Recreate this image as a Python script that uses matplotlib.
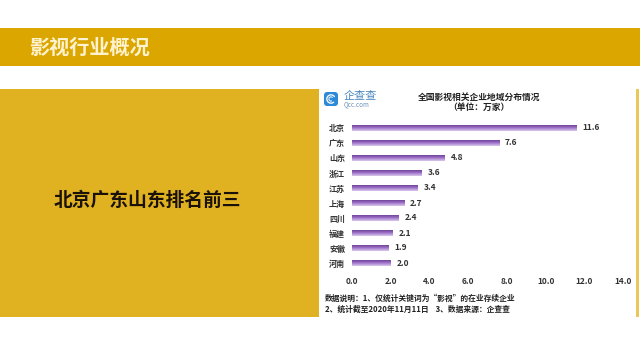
import numpy as np
import matplotlib
matplotlib.use("Agg")
import matplotlib.pyplot as plt
from matplotlib.patches import Rectangle, FancyBboxPatch, Wedge
from matplotlib.colors import LinearSegmentedColormap

plt.rcParams['font.family'] = ['Noto Sans CJK SC', 'DejaVu Sans']

provinces = ["北京", "广东", "山东", "浙江", "江苏", "上海", "四川", "福建", "安徽", "河南"]
counts = [11.6, 7.6, 4.8, 3.6, 3.4, 2.7, 2.4, 2.1, 1.9, 2.0]
xticks = [0, 2, 4, 6, 8, 10, 12, 14]

W, H = 640, 360
fig = plt.figure(figsize=(6.4, 3.6), dpi=100)
fig.patch.set_facecolor("white")

def px(x0, y0, w, h):
    return [x0 / W, 1 - (y0 + h) / H, w / W, h / H]

# background layer
bg = fig.add_axes([0, 0, 1, 1])
bg.set_xlim(0, W); bg.set_ylim(H, 0); bg.axis("off")
bg.add_patch(Rectangle((0, 28), W, 38, color="#DBA600", lw=0))
bg.text(29, 47, "影视行业概况", color="#FFF3CF", fontsize=14.5, fontweight="bold",
        va="center", ha="left")
bg.add_patch(Rectangle((0, 89), 319, 228, color="#E0B221", lw=0))
bg.add_patch(Rectangle((636, 89), 3, 228, color="#E8C85A", lw=0))
bg.text(147, 200, "北京广东山东排名前三", color="#1A1208", fontsize=13.5,
        fontweight="bold", ha="center", va="center")

# logo
bg.add_patch(FancyBboxPatch((324, 92), 14, 14, boxstyle="round,pad=0,rounding_size=3",
                            color="#2C8AD8", lw=0))
bg.add_patch(Wedge((331, 99), 4.8, 45, 330, width=1.3, color="white", lw=0))
bg.add_patch(Wedge((331, 99), 2.6, 60, 320, width=1.0, color="white", lw=0))
bg.text(344, 96, "企查查", color="#4A86C0", fontsize=8, ha="left", va="center")
bg.text(344, 104, "Qcc.com", color="#6F93BC", fontsize=4.5, ha="left", va="center")

# titles
bg.text(479, 97, "全国影视相关企业地域分布情况", fontsize=6.3, fontweight="bold",
        ha="center", va="center", color="#222222")
bg.text(479, 107, "（单位：万家）", fontsize=6.3, fontweight="bold",
        ha="center", va="center", color="#222222")

# footnotes
bg.text(325, 298, "数据说明：1、仅统计关键词为“影视”的在业存续企业", fontsize=5.6,
        fontweight="bold", ha="left", va="center", color="#222222")
bg.text(325, 309, "2、统计截至2020年11月11日    3、数据来源：企查查", fontsize=5.6,
        fontweight="bold", ha="left", va="center", color="#222222")

# chart axes
ax = fig.add_axes(px(352, 120.5, 271, 150))
ax.set_facecolor("none")
n = len(provinces)
ypos = np.arange(n)[::-1]
bars = ax.barh(ypos, counts, height=0.42, color="none", lw=0)
grad = np.linspace(0, 1, 64).reshape(-1, 1)
cmap = LinearSegmentedColormap.from_list("pg", ["#D9C8EC", "#9A6CC6", "#5E3585"])
for b in bars:
    x0, y0 = b.get_x(), b.get_y()
    im = ax.imshow(grad, extent=(x0, x0 + b.get_width(), y0, y0 + b.get_height()),
                   origin="lower", aspect="auto", cmap=cmap, zorder=2)
    im.set_clip_path(b)
for y, v in zip(ypos, counts):
    ax.text(v + 0.3, y, f"{v:.1f}", fontsize=6, fontweight="bold",
            va="center", ha="left", color="#333333")
ax.set_xlim(0, 14)
ax.set_ylim(-0.5, n - 0.5)
ax.set_yticks(ypos)
ax.set_yticklabels(provinces, fontsize=5.8, fontweight="bold")
ax.set_xticks(xticks)
ax.set_xticklabels([f"{t:.1f}" for t in xticks], fontsize=6, fontweight="bold")
ax.tick_params(length=0, pad=5, colors="#333333")
for s in ax.spines.values():
    s.set_visible(False)

fig.savefig("out.png", dpi=100)
